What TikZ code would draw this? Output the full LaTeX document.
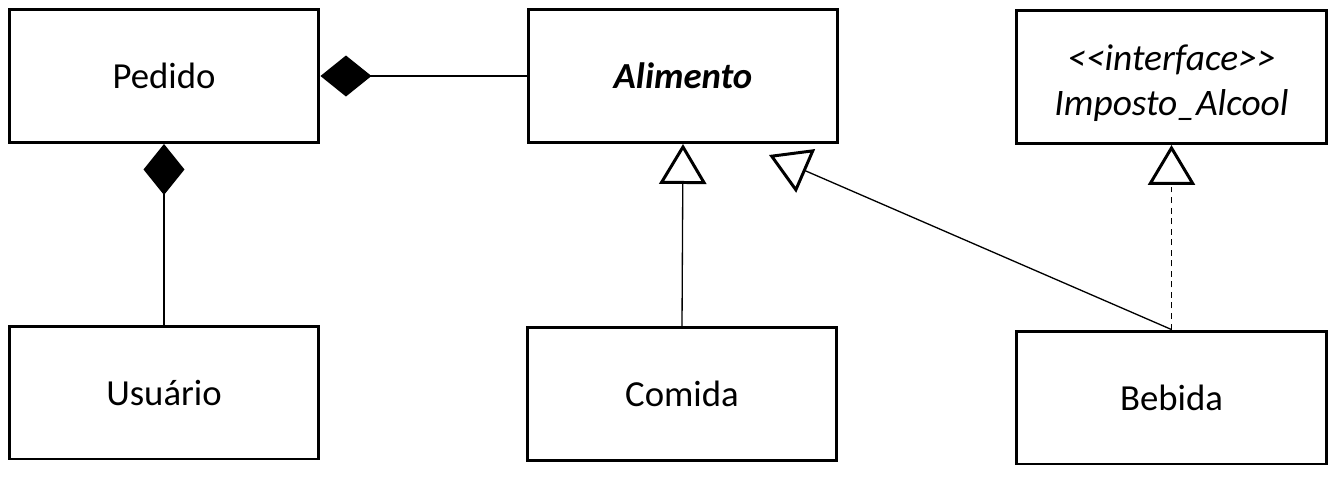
\documentclass[tikz,border=0pt]{standalone}
\usepackage{fontspec}
\setmainfont{Carlito}
\usetikzlibrary{arrows.meta}
\tikzset{
  classbox/.style={draw, line width=1.7pt, minimum width=6.2cm, minimum height=2.66cm,
    inner sep=0pt, font=\fontsize{20.9pt}{26pt}\selectfont, align=center},
  compo/.style={line width=0.75pt, {Diamond[length=1.02cm, width=0.82cm]}-},
  inherit/.style={line width=0.75pt,
    -{Triangle[open, length=0.8cm, width=0.94cm, line width=1.7pt, fill=white]}},
  realize/.style={inherit, dash pattern=on 3.4pt off 2.6pt}
}
\begin{document}
\begin{tikzpicture}[x=0.02cm, y=-0.02cm]
                \useasboundingbox (0,0) rectangle (1343,478);
                
                % Drawing box Pedido
                \node [classbox] (pedido) at (164,76) {Pedido};%
                
                % Drawing box Usuario
                \node [classbox] (usuario) at (164,392.5) {Usuário};%
                
                % Drawing box Alimento
                \node [classbox] (alimento) at (683,76) {\bfseries\itshape Alimento};%
                
                % Drawing box Comida
                \node [classbox] (comida) at (682,394) {Comida};%
                
                % Drawing box Imposto_Alcool
                \node [classbox, font=\fontsize{21.3pt}{25.5pt}\selectfont] (imposto) at (1171.5,77)
                  {\rule{0pt}{0.75cm}\itshape <{}<interface>{}>\\ \itshape Imposto\_Alcool};%
                
                % Drawing box Bebida
                \node [classbox] (bebida) at (1171.5,397.5) {Bebida};%
                
                % Marking tip point of Bebida -> Alimento
                \coordinate (alimTip) at (769,155);%
                
                % Drawing segment Pedido Alimento
                \draw [compo] (pedido.east) -- (alimento.west);%
                
                % Drawing segment Pedido Usuario
                \draw [compo] (pedido.south) -- (usuario.north);%
                
                % Drawing segment Comida Alimento
                \draw [inherit] (comida.north) -- (alimento.south);%
                
                % Drawing segment Bebida Alimento
                \draw [inherit] (bebida.north) -- (alimTip);%
                
                % Drawing segment Bebida Imposto_Alcool
                \draw [realize] (bebida.north) -- (imposto.south);%
\end{tikzpicture}
\end{document}
